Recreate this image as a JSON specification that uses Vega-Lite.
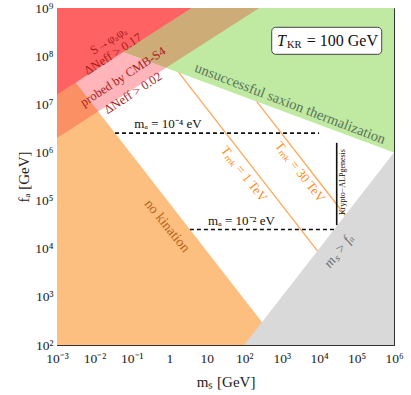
{
  "$schema": "https://vega.github.io/schema/vega-lite/v6.json",
  "width": 337,
  "height": 337,
  "autosize": "none",
  "padding": {"left": 57, "top": 8, "right": 17, "bottom": 50},
  "background": "white",
  "config": {"view": {"stroke": "#333333", "strokeWidth": 1}, "font": "Liberation Serif"},
  "datasets": {
    "regions": [
      {"region": "orange", "x": 0.001, "y": 100, "y2": 89130000},
      {"region": "orange", "x": 891.3, "y": 100, "y2": 100},
      {"region": "pink", "x": 0.001, "y": 1995000, "y2": 15850000},
      {"region": "pink", "x": 3.981, "y": 125900000, "y2": 1000000000},
      {"region": "pink", "x": 251.2, "y": 1000000000, "y2": 1000000000},
      {"region": "salmon", "x": 0.001, "y": 1995000, "y2": 15850000},
      {"region": "salmon", "x": 0.003162, "y": 3548000, "y2": 28180000},
      {"region": "salmon", "x": 0.01259, "y": 7079000, "y2": 7079000},
      {"region": "green", "x": 0.05943, "y": 122200000, "y2": 1000000000},
      {"region": "green", "x": 1000000, "y": 1000000, "y2": 1000000000},
      {"region": "tan", "x": 0.05943, "y": 122200000, "y2": 122200000},
      {"region": "tan", "x": 0.8222, "y": 57280000, "y2": 454500000},
      {"region": "tan", "x": 3.981, "y": 125900000, "y2": 1000000000},
      {"region": "tan", "x": 251.2, "y": 1000000000, "y2": 1000000000},
      {"region": "red", "x": 0.001, "y": 15850000, "y2": 1000000000},
      {"region": "red", "x": 3.981, "y": 1000000000, "y2": 1000000000},
      {"region": "grey", "x": 100, "y": 100, "y2": 100},
      {"region": "grey", "x": 1000000, "y": 100, "y2": 1000000}
    ],
    "lines": [
      {"kind": "tmk", "x": 1.774, "y": 45810000, "x2": 9016, "y2": 9016},
      {"kind": "tmk", "x": 214.3, "y": 11460000, "x2": 49545, "y2": 49545},
      {"kind": "dash", "x": 0.03548, "y": 2512000, "x2": 10000, "y2": 2512000},
      {"kind": "dash", "x": 3.548, "y": 25120, "x2": 26303, "y2": 25120},
      {"kind": "vline", "x": 29512, "y": 30903, "x2": 29512, "y2": 1585000}
    ],
    "box": [
      {"x": 542, "x2": 469894, "y": 109100000, "y2": 397200000}
    ],
    "labels": [
      {"kind": "red", "x": 0.0235, "y": 210000000, "text": "S→φₐφₐ"},
      {"kind": "red", "x": 0.03133, "y": 110700000, "text": "ΔNeff > 0.17"},
      {"kind": "red", "x": 0.05794, "y": 37410000, "text": "probed by CMB-S4"},
      {"kind": "red", "x": 0.1072, "y": 17140000, "text": "ΔNeff > 0.02"},
      {"kind": "green", "x": 1671, "y": 10140000, "text": "unsuccessful saxion thermalization"},
      {"kind": "orange", "x": 0.867, "y": 29650, "text": "no kination"},
      {"kind": "grey", "x": 34041, "y": 8954, "text": "mₛ > fₐ"},
      {"kind": "tmk", "x": 98.85, "y": 356500, "text": "Tₘₖ = 1 TeV"},
      {"kind": "tmk", "x": 3090, "y": 391700, "text": "Tₘₖ = 30 TeV"},
      {"kind": "ma", "x": 0.9226, "y": 3890000, "text": "mₐ = 10⁻⁴ eV"},
      {"kind": "ma", "x": 84.72, "y": 37584, "text": "mₐ = 10⁻² eV"},
      {"kind": "krypto", "x": 43551, "y": 243200, "text": "Krypto−ALPgenesis"},
      {"kind": "boxT", "x": 751.6, "y": 206100000, "text": "T"},
      {"kind": "boxKR", "x": 1390, "y": 206100000, "text": "KR"},
      {"kind": "boxRest", "x": 4677, "y": 206100000, "text": "= 100 GeV"}
    ]
  },
  "encoding": {
    "x": {
      "field": "x", "type": "quantitative",
      "scale": {"type": "log", "domain": [0.001, 1000000], "nice": false},
      "axis": {
        "title": "mₛ [GeV]", "titleFont": "Liberation Serif", "titleFontSize": 15, "titleFontWeight": "normal", "titleColor": "#222222", "titlePadding": 7,
        "values": [0.001,0.002,0.003,0.004,0.005,0.006,0.007,0.008,0.009,0.01,0.02,0.03,0.04,0.05,0.06,0.07,0.08,0.09,0.1,0.2,0.3,0.4,0.5,0.6,0.7,0.8,0.9,1,2,3,4,5,6,7,8,9,10,20,30,40,50,60,70,80,90,100,200,300,400,500,600,700,800,900,1000,2000,3000,4000,5000,6000,7000,8000,9000,10000,20000,30000,40000,50000,60000,70000,80000,90000,100000,200000,300000,400000,500000,600000,700000,800000,900000,1000000],
        "labelExpr": "abs(log(datum.value)/LN10 - round(log(datum.value)/LN10)) > 0.001 ? '' : (round(log(datum.value)/LN10) == 0 ? '1' : round(log(datum.value)/LN10) == 1 ? '10' : '10' + replace(replace(replace(replace(replace(replace(replace(replace(replace(replace('' + round(log(datum.value)/LN10), '-', '⁻'), '1', '¹'), '2', '²'), '3', '³'), '4', '⁴'), '5', '⁵'), '6', '⁶'), '7', '⁷'), '8', '⁸'), '9', '⁹'))",
        "labelFont": "Liberation Serif", "labelFontSize": 13.5, "labelColor": "#222222",
        "labelOverlap": false, "labelFlush": false, "labelPadding": 11,
        "tickSize": {"condition": {"test": "abs(log(datum.value)/LN10 - round(log(datum.value)/LN10)) < 0.001", "value": -5}, "value": -2.5},
        "tickColor": "#333333", "domainColor": "#333333", "grid": false
      }
    },
    "y": {
      "field": "y", "type": "quantitative",
      "scale": {"type": "log", "domain": [100, 1000000000], "nice": false},
      "axis": {
        "title": "fₐ [GeV]", "titleFont": "Liberation Serif", "titleFontSize": 15, "titleFontWeight": "normal", "titleColor": "#222222", "titlePadding": 3,
        "values": [100,200,300,400,500,600,700,800,900,1000,2000,3000,4000,5000,6000,7000,8000,9000,10000,20000,30000,40000,50000,60000,70000,80000,90000,100000,200000,300000,400000,500000,600000,700000,800000,900000,1000000,2000000,3000000,4000000,5000000,6000000,7000000,8000000,9000000,10000000,20000000,30000000,40000000,50000000,60000000,70000000,80000000,90000000,100000000,200000000,300000000,400000000,500000000,600000000,700000000,800000000,900000000,1000000000],
        "labelExpr": "abs(log(datum.value)/LN10 - round(log(datum.value)/LN10)) > 0.001 ? '' : '10' + replace(replace(replace(replace(replace(replace(replace(replace(replace('' + round(log(datum.value)/LN10), '1', '¹'), '2', '²'), '3', '³'), '4', '⁴'), '5', '⁵'), '6', '⁶'), '7', '⁷'), '8', '⁸'), '9', '⁹')",
        "labelFont": "Liberation Serif", "labelFontSize": 13.5, "labelColor": "#222222",
        "labelOverlap": false, "labelFlush": false, "labelPadding": 9,
        "tickSize": {"condition": {"test": "abs(log(datum.value)/LN10 - round(log(datum.value)/LN10)) < 0.001", "value": -5}, "value": -2.5},
        "tickColor": "#333333", "domainColor": "#333333", "grid": false
      }
    }
  },
  "layer": [
    {"data": {"name": "regions"}, "transform": [{"filter": "datum.region == 'orange'"}], "mark": {"type": "area", "color": "#fdbf80", "opacity": 1}, "encoding": {"y2": {"field": "y2"}}},
    {"data": {"name": "regions"}, "transform": [{"filter": "datum.region == 'pink'"}], "mark": {"type": "area", "color": "#ffb5b9", "opacity": 1}, "encoding": {"y2": {"field": "y2"}}},
    {"data": {"name": "regions"}, "transform": [{"filter": "datum.region == 'salmon'"}], "mark": {"type": "area", "color": "#fb9064", "opacity": 1}, "encoding": {"y2": {"field": "y2"}}},
    {"data": {"name": "regions"}, "transform": [{"filter": "datum.region == 'green'"}], "mark": {"type": "area", "color": "#c0e9a2", "opacity": 1}, "encoding": {"y2": {"field": "y2"}}},
    {"data": {"name": "regions"}, "transform": [{"filter": "datum.region == 'tan'"}], "mark": {"type": "area", "color": "#cdac78", "opacity": 1}, "encoding": {"y2": {"field": "y2"}}},
    {"data": {"name": "regions"}, "transform": [{"filter": "datum.region == 'red'"}], "mark": {"type": "area", "color": "#ff6262", "opacity": 1}, "encoding": {"y2": {"field": "y2"}}},
    {"data": {"name": "regions"}, "transform": [{"filter": "datum.region == 'grey'"}], "mark": {"type": "area", "color": "#d9d9d9", "opacity": 1}, "encoding": {"y2": {"field": "y2"}}},
    {"data": {"name": "lines"}, "transform": [{"filter": "datum.kind == 'tmk'"}], "mark": {"type": "rule", "color": "#ffa85a", "strokeWidth": 1.3}, "encoding": {"x2": {"field": "x2"}, "y2": {"field": "y2"}}},
    {"data": {"name": "lines"}, "transform": [{"filter": "datum.kind == 'dash'"}], "mark": {"type": "rule", "color": "#111111", "strokeWidth": 1.6, "strokeDash": [4, 3]}, "encoding": {"x2": {"field": "x2"}, "y2": {"field": "y2"}}},
    {"data": {"name": "lines"}, "transform": [{"filter": "datum.kind == 'vline'"}], "mark": {"type": "rule", "color": "#111111", "strokeWidth": 1.6}, "encoding": {"x2": {"field": "x2"}, "y2": {"field": "y2"}}},
    {"data": {"name": "box"}, "mark": {"type": "rect", "fill": "white", "stroke": "#444444", "strokeWidth": 1, "cornerRadius": 4}, "encoding": {"x2": {"field": "x2"}, "y2": {"field": "y2"}}},
    {"data": {"name": "labels"}, "transform": [{"filter": "datum.kind == 'red'"}], "mark": {"type": "text", "color": "#a81c1c", "fontSize": 12.5, "angle": 327, "align": "center", "baseline": "middle", "font": "Liberation Serif"}, "encoding": {"text": {"field": "text"}}},
    {"data": {"name": "labels"}, "transform": [{"filter": "datum.kind == 'green'"}], "mark": {"type": "text", "color": "#5a735a", "fontSize": 14.5, "angle": 21, "align": "center", "baseline": "middle", "font": "Liberation Serif"}, "encoding": {"text": {"field": "text"}}},
    {"data": {"name": "labels"}, "transform": [{"filter": "datum.kind == 'orange'"}], "mark": {"type": "text", "color": "#b8651c", "fontSize": 14, "angle": 51, "align": "center", "baseline": "middle", "font": "Liberation Serif"}, "encoding": {"text": {"field": "text"}}},
    {"data": {"name": "labels"}, "transform": [{"filter": "datum.kind == 'grey'"}], "mark": {"type": "text", "color": "#6e6e6e", "fontSize": 14, "angle": 308, "align": "center", "baseline": "middle", "font": "Liberation Serif", "fontStyle": "italic"}, "encoding": {"text": {"field": "text"}}},
    {"data": {"name": "labels"}, "transform": [{"filter": "datum.kind == 'tmk'"}], "mark": {"type": "text", "color": "#ff8c1a", "fontSize": 13, "angle": 52, "align": "center", "baseline": "middle", "font": "Liberation Serif"}, "encoding": {"text": {"field": "text"}}},
    {"data": {"name": "labels"}, "transform": [{"filter": "datum.kind == 'ma'"}], "mark": {"type": "text", "color": "#111111", "fontSize": 13, "align": "center", "baseline": "middle", "font": "Liberation Serif"}, "encoding": {"text": {"field": "text"}}},
    {"data": {"name": "labels"}, "transform": [{"filter": "datum.kind == 'krypto'"}], "mark": {"type": "text", "color": "#111111", "fontSize": 8, "angle": 270, "align": "center", "baseline": "middle", "font": "Liberation Serif"}, "encoding": {"text": {"field": "text"}}},
    {"data": {"name": "labels"}, "transform": [{"filter": "datum.kind == 'boxT'"}], "mark": {"type": "text", "color": "#111111", "fontSize": 16, "fontStyle": "italic", "align": "left", "baseline": "middle", "font": "Liberation Serif"}, "encoding": {"text": {"field": "text"}}},
    {"data": {"name": "labels"}, "transform": [{"filter": "datum.kind == 'boxKR'"}], "mark": {"type": "text", "color": "#111111", "fontSize": 10.5, "align": "left", "baseline": "middle", "dy": 4, "font": "Liberation Serif"}, "encoding": {"text": {"field": "text"}}},
    {"data": {"name": "labels"}, "transform": [{"filter": "datum.kind == 'boxRest'"}], "mark": {"type": "text", "color": "#111111", "fontSize": 16, "align": "left", "baseline": "middle", "font": "Liberation Serif"}, "encoding": {"text": {"field": "text"}}}
  ]
}
